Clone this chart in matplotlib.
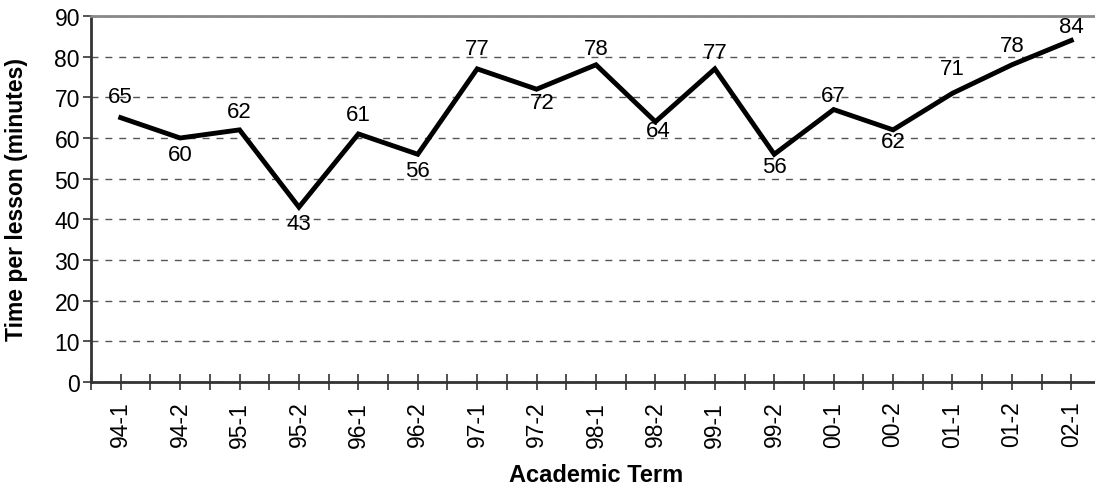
import matplotlib
matplotlib.use("Agg")
import matplotlib.pyplot as plt
from matplotlib.ticker import MultipleLocator

plt.rcParams['font.family'] = ['Liberation Sans', 'DejaVu Sans']

terms = ["94-1", "94-2", "95-1", "95-2", "96-1", "96-2", "97-1", "97-2", "98-1",
         "98-2", "99-1", "99-2", "00-1", "00-2", "01-1", "01-2", "02-1"]
minutes = [65, 60, 62, 43, 61, 56, 77, 72, 78, 64, 77, 56, 67, 62, 71, 78, 84]
# value label offsets from each point, in pixels (dx, dy; positive dy is up)
label_dx = [0, 0, 0, 0, 0, 0, 0, 6, 0, 3, 0, 0, 0, 0, 0, 0, 0]
label_dy = [21, -17, 18, -16, 19, -16, 20, -13, 16, -9, 16, -12, 14, -12, 25, 19, 14]

fig = plt.figure(figsize=(10.95, 4.89), dpi=100)
ax = fig.add_axes([91 / 1095, 1 - 383 / 489, 1010 / 1095, 366 / 489])

x = list(range(len(terms)))
ax.plot(x, minutes, color="black", linewidth=3.5, solid_joinstyle="miter")

px = 72 / fig.dpi
for xi, v, dx, dy in zip(x, minutes, label_dx, label_dy):
    ax.annotate(str(v), (xi, v), xytext=(dx * px, dy * px), textcoords="offset points",
                ha="center", va="center", fontsize=16)

ax.set_xlim(-0.5, 16.5)
ax.set_ylim(0, 90)
ax.yaxis.set_major_locator(MultipleLocator(10))
ax.set_xticks(x)
ax.set_xticklabels(terms, rotation=90, fontsize=16.5)
ax.xaxis.set_minor_locator(MultipleLocator(0.5))
ax.tick_params(axis="y", labelsize=16.5, direction="out", length=6, width=1.2, color="#333333", pad=2)
ax.tick_params(axis="x", which="both", direction="inout", length=11, width=1.2, color="#333333", pad=8)

ax.grid(axis="y", linestyle=(0, (5, 5)), color="#555555", linewidth=1.0)
ax.set_axisbelow(True)

for s in ["left", "bottom"]:
    ax.spines[s].set_color("#333333")
    ax.spines[s].set_linewidth(2)
ax.spines["top"].set_color("#888888")
ax.spines["top"].set_linewidth(2)
ax.spines["right"].set_visible(False)

ax.set_ylabel("Time per lesson (minutes)", fontsize=16.5, fontweight="bold")
ax.set_xlabel("Academic Term", fontsize=17, fontweight="bold")
ax.yaxis.set_label_coords(-0.062, 0.5)
ax.xaxis.set_label_coords(0.5, -0.222)

fig.savefig("out.png", dpi=100)
